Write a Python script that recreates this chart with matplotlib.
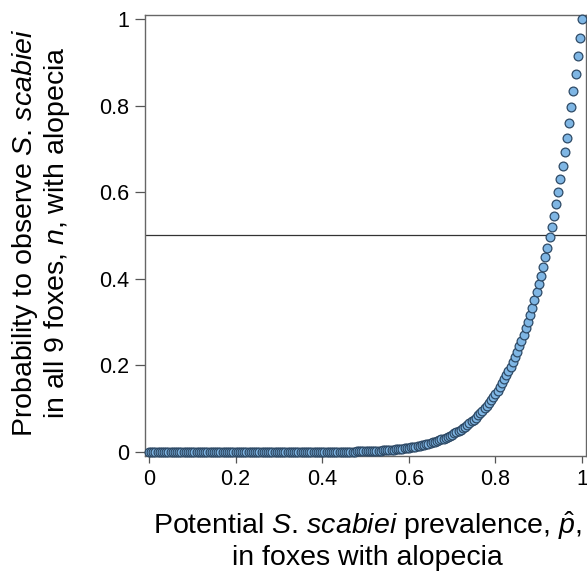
import matplotlib
matplotlib.use("Agg")
import matplotlib.pyplot as plt

plt.rcParams['font.family'] = ['Liberation Sans', 'DejaVu Sans']
plt.rcParams['mathtext.fontset'] = 'custom'
plt.rcParams['mathtext.rm'] = 'Liberation Sans'
plt.rcParams['mathtext.it'] = 'Liberation Sans:italic'

# Potential prevalence (x) and probability to observe S. scabiei in all 9 foxes (y)
prevalence = [
    0.000, 0.005, 0.010, 0.015, 0.020, 0.025, 0.030, 0.035, 0.040, 0.045,
    0.050, 0.055, 0.060, 0.065, 0.070, 0.075, 0.080, 0.085, 0.090, 0.095,
    0.100, 0.105, 0.110, 0.115, 0.120, 0.125, 0.130, 0.135, 0.140, 0.145,
    0.150, 0.155, 0.160, 0.165, 0.170, 0.175, 0.180, 0.185, 0.190, 0.195,
    0.200, 0.205, 0.210, 0.215, 0.220, 0.225, 0.230, 0.235, 0.240, 0.245,
    0.250, 0.255, 0.260, 0.265, 0.270, 0.275, 0.280, 0.285, 0.290, 0.295,
    0.300, 0.305, 0.310, 0.315, 0.320, 0.325, 0.330, 0.335, 0.340, 0.345,
    0.350, 0.355, 0.360, 0.365, 0.370, 0.375, 0.380, 0.385, 0.390, 0.395,
    0.400, 0.405, 0.410, 0.415, 0.420, 0.425, 0.430, 0.435, 0.440, 0.445,
    0.450, 0.455, 0.460, 0.465, 0.470, 0.475, 0.480, 0.485, 0.490, 0.495,
    0.500, 0.505, 0.510, 0.515, 0.520, 0.525, 0.530, 0.535, 0.540, 0.545,
    0.550, 0.555, 0.560, 0.565, 0.570, 0.575, 0.580, 0.585, 0.590, 0.595,
    0.600, 0.605, 0.610, 0.615, 0.620, 0.625, 0.630, 0.635, 0.640, 0.645,
    0.650, 0.655, 0.660, 0.665, 0.670, 0.675, 0.680, 0.685, 0.690, 0.695,
    0.700, 0.705, 0.710, 0.715, 0.720, 0.725, 0.730, 0.735, 0.740, 0.745,
    0.750, 0.755, 0.760, 0.765, 0.770, 0.775, 0.780, 0.785, 0.790, 0.795,
    0.800, 0.805, 0.810, 0.815, 0.820, 0.825, 0.830, 0.835, 0.840, 0.845,
    0.850, 0.855, 0.860, 0.865, 0.870, 0.875, 0.880, 0.885, 0.890, 0.895,
    0.900, 0.905, 0.910, 0.915, 0.920, 0.925, 0.930, 0.935, 0.940, 0.945,
    0.950, 0.955, 0.960, 0.965, 0.970, 0.975, 0.980, 0.985, 0.990, 0.995,
    1.000,
]

probability = [
    0.0000, 0.0000, 0.0000, 0.0000, 0.0000, 0.0000, 0.0000, 0.0000, 0.0000, 0.0000,
    0.0000, 0.0000, 0.0000, 0.0000, 0.0000, 0.0000, 0.0000, 0.0000, 0.0000, 0.0000,
    0.0000, 0.0000, 0.0000, 0.0000, 0.0000, 0.0000, 0.0000, 0.0000, 0.0000, 0.0000,
    0.0000, 0.0000, 0.0000, 0.0000, 0.0000, 0.0000, 0.0000, 0.0000, 0.0000, 0.0000,
    0.0000, 0.0000, 0.0000, 0.0000, 0.0000, 0.0000, 0.0000, 0.0000, 0.0000, 0.0000,
    0.0000, 0.0000, 0.0000, 0.0000, 0.0000, 0.0000, 0.0000, 0.0000, 0.0000, 0.0000,
    0.0000, 0.0000, 0.0000, 0.0000, 0.0000, 0.0000, 0.0000, 0.0001, 0.0001, 0.0001,
    0.0001, 0.0001, 0.0001, 0.0001, 0.0001, 0.0001, 0.0002, 0.0002, 0.0002, 0.0002,
    0.0003, 0.0003, 0.0003, 0.0004, 0.0004, 0.0005, 0.0005, 0.0006, 0.0006, 0.0007,
    0.0008, 0.0008, 0.0009, 0.0010, 0.0011, 0.0012, 0.0014, 0.0015, 0.0016, 0.0018,
    0.0020, 0.0021, 0.0023, 0.0025, 0.0028, 0.0030, 0.0033, 0.0036, 0.0039, 0.0042,
    0.0046, 0.0050, 0.0054, 0.0059, 0.0064, 0.0069, 0.0074, 0.0080, 0.0087, 0.0093,
    0.0101, 0.0109, 0.0117, 0.0126, 0.0135, 0.0146, 0.0156, 0.0168, 0.0180, 0.0193,
    0.0207, 0.0222, 0.0238, 0.0254, 0.0272, 0.0291, 0.0311, 0.0332, 0.0355, 0.0378,
    0.0404, 0.0430, 0.0458, 0.0488, 0.0520, 0.0553, 0.0589, 0.0626, 0.0665, 0.0707,
    0.0751, 0.0797, 0.0846, 0.0897, 0.0952, 0.1009, 0.1069, 0.1132, 0.1199, 0.1269,
    0.1342, 0.1420, 0.1501, 0.1586, 0.1676, 0.1770, 0.1869, 0.1973, 0.2082, 0.2196,
    0.2316, 0.2442, 0.2573, 0.2711, 0.2855, 0.3007, 0.3165, 0.3330, 0.3504, 0.3685,
    0.3874, 0.4072, 0.4279, 0.4496, 0.4722, 0.4958, 0.5204, 0.5461, 0.5730, 0.6010,
    0.6302, 0.6607, 0.6925, 0.7257, 0.7602, 0.7962, 0.8337, 0.8728, 0.9135, 0.9559,
    1.0000,
]

threshold = 0.5
xticks = [0, 0.2, 0.4, 0.6, 0.8, 1]
xticklabels = ["0", "0.2", "0.4", "0.6", "0.8", "1"]
yticks = [0, 0.2, 0.4, 0.6, 0.8, 1]
yticklabels = ["0", "0.2", "0.4", "0.6", "0.8", "1"]

W, H = 587, 577
fig = plt.figure(figsize=(W / 100, H / 100), dpi=100)
ax = fig.add_axes([145 / W, 1 - 456 / H, (586 - 145) / W, (456 - 15) / H])

ax.axhline(threshold, color="#333333", lw=0.9, zorder=1)
ax.scatter(prevalence, probability, s=40, facecolor="#7fb6e4",
           edgecolor="#2e4a66", linewidth=0.9, zorder=3, clip_on=False)

ax.set_xlim(-0.0092, 1.009)
ax.set_ylim(-0.009, 1.009)
ax.set_xticks(xticks)
ax.set_xticklabels(xticklabels)
ax.set_yticks(yticks)
ax.set_yticklabels(yticklabels)
ax.tick_params(axis="both", direction="out", width=0.9,
               color="#555555", labelsize=15.5, labelcolor="black", pad=4.5)
ax.tick_params(axis="x", length=5)
ax.tick_params(axis="y", length=7)

for s in ax.spines.values():
    s.set_color("#666666")
    s.set_linewidth(1.0)

fig.text(367 / W, 1 - 540 / H,
         "Potential $\\mathit{S}$. $\\mathit{scabiei}$ prevalence, $\\hat{p}$,\nin foxes with alopecia",
         fontsize=20.5, ha="center", va="center", linespacing=1.15,
         multialignment="center")
fig.text(41 / W, 1 - 233 / H,
         "Probability to observe $\\mathit{S}$. $\\mathit{scabiei}$\nin all 9 foxes, $\\mathit{n}$, with alopecia",
         fontsize=20.5, ha="center", va="center", rotation=90, linespacing=1.1,
         multialignment="center")

fig.savefig("out.png", dpi=100)
